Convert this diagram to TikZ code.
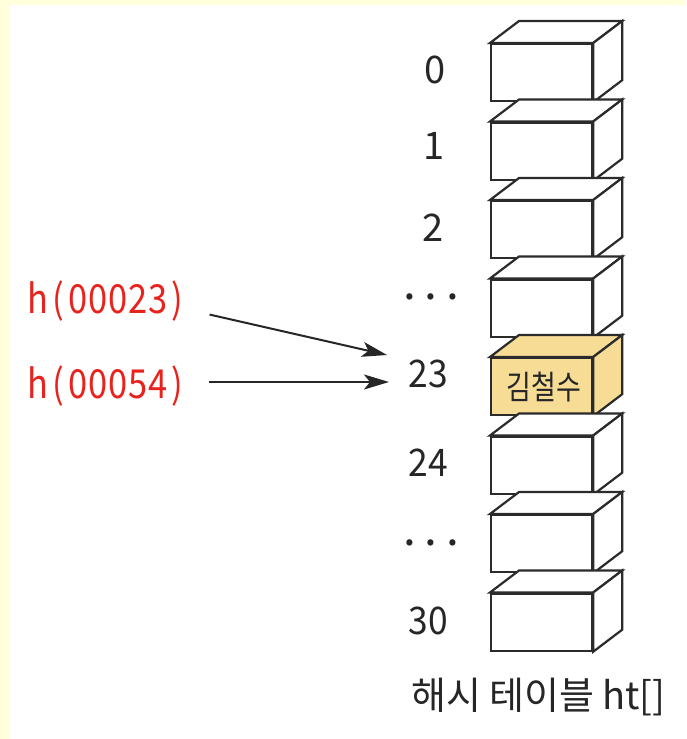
\documentclass[tikz,border=0pt]{standalone}
\usepackage{fontspec}
\usetikzlibrary{arrows.meta}
\newfontfamily\krfont{Noto Sans CJK KR}
\definecolor{bgyellow}{HTML}{FFFFDC}
\definecolor{hlfill}{HTML}{F7DC96}
\definecolor{hred}{HTML}{E8231E}
\definecolor{edge}{HTML}{2B2B2B}
\newcommand{\mc}[1]{\makebox[19.9pt]{\scalebox{0.86}[1]{#1}}}
\tikzset{
  boxline/.style={draw=edge, line width=2.2pt, line join=miter},
  front/.style={boxline, minimum width=101pt, minimum height=57pt, inner sep=0pt, anchor=north west},
  idx/.style={font=\krfont\fontsize{38}{38}\selectfont, text=black!85, inner sep=0pt, anchor=base},
  hlabel/.style={font=\krfont\fontsize{40}{40}\selectfont, text=hred, inner sep=0pt, anchor=base west},
  arr/.style={draw=black!85, line width=2pt, -{Stealth[length=25pt,width=15pt,inset=6pt]}}
}
\newcommand{\cubebox}[3]{% name, top y, fill
  \node[front, fill=#3] (#1) at (490,#2) {};
  \draw[boxline, fill=#3] (#1.north west) -- +(29,-22) -- ([shift={(29,-22)}]#1.north east) -- (#1.north east) -- cycle;
  \draw[boxline, fill=#3] (#1.north east) -- ([shift={(29,-22)}]#1.north east) -- ([shift={(29,-22)}]#1.south east) -- (#1.south east) -- cycle;
}
\begin{document}
\begin{tikzpicture}[x=1pt,y=-1pt]
\useasboundingbox (0,0) rectangle (686,739);
\fill[bgyellow] (0,0) rectangle (686,739);
\fill[white] (10,5) rectangle (686,739);
% boxes
\cubebox{b0}{43}{white}
\cubebox{b1}{121.5}{white}
\cubebox{b2}{200}{white}
\cubebox{b3}{278.5}{white}
\cubebox{b4}{357}{hlfill}
\cubebox{b5}{435.5}{white}
\cubebox{b6}{514}{white}
\cubebox{b7}{592.5}{white}
\node[font=\krfont\fontsize{30}{30}\selectfont, text=black!85, inner sep=0pt] (kim) at ([xshift=2pt]b4.center) {\scalebox{0.9}[1.1]{김철수}};
% index labels
\node[idx] (l0) at (435,83) {0};
\node[idx] (l1) at (434,159) {1};
\node[idx] (l2) at (433,241) {2};
\node[font=\krfont\fontsize{46}{46}\selectfont, text=black!85, inner sep=0pt] (ld1) at (431,297) {\makebox[21.5pt]{.}\makebox[21.5pt]{.}\makebox[21.5pt]{.}};
\node[idx] (l23) at (428,387) {\scalebox{0.93}[1]{23}};
\node[idx] (l24) at (428,476) {\scalebox{0.93}[1]{24}};
\node[font=\krfont\fontsize{46}{46}\selectfont, text=black!85, inner sep=0pt] (ld2) at (431,543) {\makebox[21.5pt]{.}\makebox[21.5pt]{.}\makebox[21.5pt]{.}};
\node[idx] (l30) at (428,634) {\scalebox{0.93}[1]{30}};
% caption
\node[font=\krfont\fontsize{38}{38}\selectfont, text=black!85, inner sep=0pt, anchor=base west] (cap) at (411,709) {해시\hspace{8pt}테이블\hspace{8pt}ht[]};
% hash labels
\node[hlabel] (h1) at (28,313) {\mc{h}\mc{(}\mc{0}\mc{0}\mc{0}\mc{2}\mc{3}\mc{)}};
\node[hlabel] (h2) at (28,398) {\mc{h}\mc{(}\mc{0}\mc{0}\mc{0}\mc{5}\mc{4}\mc{)}};
\coordinate (t1) at (387,355);
\coordinate (t2) at (389,382);
\draw[arr] ([xshift=22pt,yshift=-14pt]h1.east) -- (t1);
\draw[arr] (h2.east |- t2) ++(21,0) -- (t2);
\end{tikzpicture}
\end{document}
